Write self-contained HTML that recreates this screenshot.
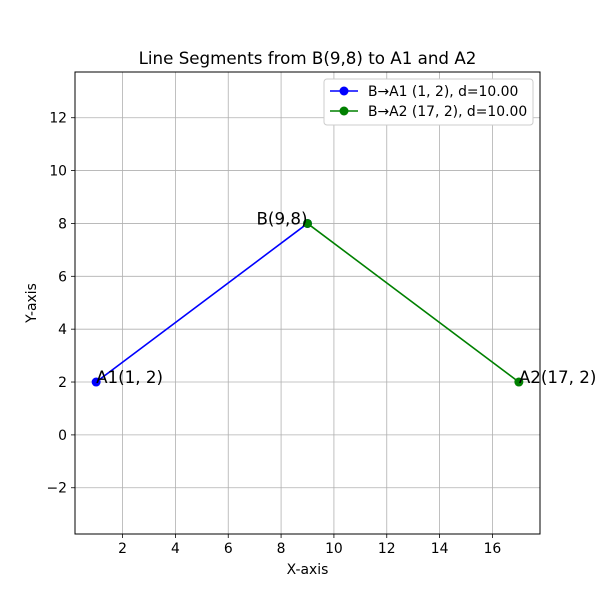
<!DOCTYPE html>
<html><head><meta charset="utf-8"><style>
body{margin:0;background:#fff;}
svg text{font-family:"DejaVu Sans","Liberation Sans",sans-serif;}
</style></head><body>
<svg id="chart" width="600" height="600" xmlns="http://www.w3.org/2000/svg"></svg>
<script>
const xTicks=[2,4,6,8,10,12,14,16];
const yTicks=[-2,0,2,4,6,8,10,12];
const seriesNames=["B→A1 (1, 2), d=10.00","B→A2 (17, 2), d=10.00"];
const seriesColors=["#0000ff","#008000"];
const seriesX=[[9,1],[9,17]];
const seriesY=[[8,2],[8,2]];
const pointLabels=["B(9,8)","A1(1, 2)","A2(17, 2)"];
const pointX=[9,1,17];
const pointY=[8,2,2];
const L=75,R=540,T=72,B=534;
const xmin=0.2,xmax=17.8,ymin=-3.75,ymax=13.73;
const sx=v=>L+(v-xmin)/(xmax-xmin)*(R-L);
const sy=v=>B-(v-ymin)/(ymax-ymin)*(B-T);
const svg=document.getElementById('chart');
const NS="http://www.w3.org/2000/svg";
function mk(tag,attrs,parent){const e=document.createElementNS(NS,tag);for(const k in attrs)e.setAttribute(k,attrs[k]);(parent||svg).appendChild(e);return e;}
let e;
xTicks.forEach(v=>{
 e=mk('line',{x1:sx(v),x2:sx(v),y1:T,y2:B,stroke:'#b0b0b0','stroke-width':0.8});
 
 
 mk('line',{x1:sx(v),x2:sx(v),y1:B,y2:B+4,stroke:'#000','stroke-width':0.8});
 e=mk('text',{x:sx(v),y:B+19,'text-anchor':'middle','font-size':13.9});e.textContent=v;
 
 
});
yTicks.forEach(v=>{
 e=mk('line',{x1:L,x2:R,y1:sy(v),y2:sy(v),stroke:'#b0b0b0','stroke-width':0.8});
 
 
 mk('line',{x1:L-4,x2:L,y1:sy(v),y2:sy(v),stroke:'#000','stroke-width':0.8});
 e=mk('text',{x:L-8,y:sy(v)+5,'text-anchor':'end','font-size':13.9});e.textContent=(v<0?'−'+(-v):v);
 
 
});
seriesNames.forEach((n,i)=>{
 const pts=seriesX[i].map((x,j)=>sx(x)+','+sy(seriesY[i][j])).join(' ');
 e=mk('polyline',{points:pts,fill:'none',stroke:seriesColors[i],'stroke-width':1.6});
 
 
 seriesX[i].forEach((x,j)=>{
  e=mk('circle',{cx:sx(x),cy:sy(seriesY[i][j]),r:4.5,fill:seriesColors[i]});
  
  
 });
});
pointLabels.forEach((t,i)=>{
 const anchor=i==0?'end':'start';
 e=mk('text',{x:sx(pointX[i]),y:sy(pointY[i])+1,'text-anchor':anchor,'font-size':16.7});e.textContent=t;
 
 
});
mk('rect',{x:L,y:T,width:R-L,height:B-T,fill:'none',stroke:'#000','stroke-width':1});
e=mk('text',{x:(L+R)/2,y:64,'text-anchor':'middle','font-size':16.7});e.textContent='Line Segments from B(9,8) to A1 and A2';

e=mk('text',{x:(L+R)/2,y:574,'text-anchor':'middle','font-size':13.9});e.textContent='X-axis';

e=mk('text',{x:36,y:(T+B)/2,'text-anchor':'middle','font-size':13.9,transform:'rotate(-90 36 '+(T+B)/2+')'});e.textContent='Y-axis';

const lg=mk('g',{});

mk('rect',{x:324,y:79,width:209,height:46,fill:'#fff',stroke:'#ccc',rx:3},lg);
seriesNames.forEach((n,i)=>{
 const y=91+i*20;
 mk('line',{x1:330,x2:358,y1:y,y2:y,stroke:seriesColors[i],'stroke-width':1.6},lg);
 mk('circle',{cx:344,cy:y,r:4.5,fill:seriesColors[i]},lg);
 e=mk('text',{x:368,y:y+5,'font-size':13.9},lg);e.textContent=n;
 
});
</script>
</body></html>
